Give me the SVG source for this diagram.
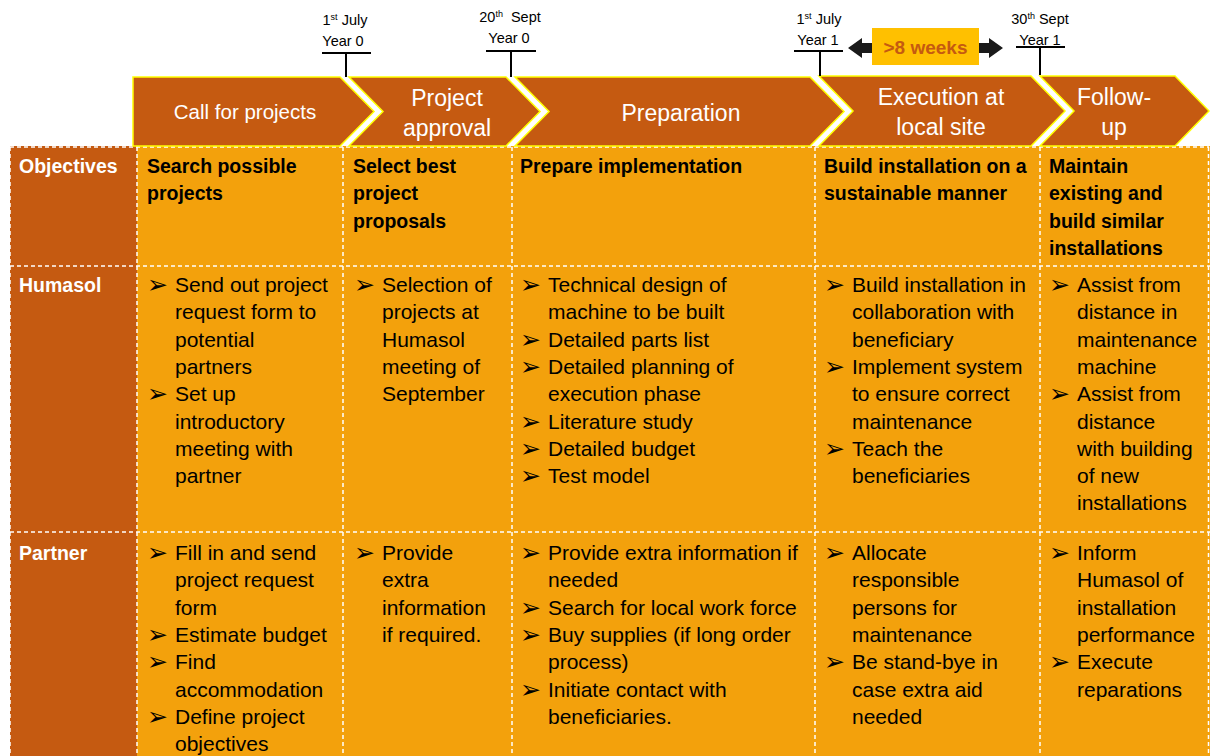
<svg xmlns="http://www.w3.org/2000/svg" width="1210" height="756" viewBox="0 0 1210 756">
<style>
.ch{fill:#C55A11;stroke:#FFFF00;stroke-width:1.5;stroke-linejoin:miter}
.cl{font-family:"Liberation Sans",Arial,sans-serif;fill:#FFFFFF;text-anchor:middle;font-size:23px}
.tl{font-family:"Liberation Sans",Arial,sans-serif;font-size:14.5px;fill:#000000;text-anchor:middle}
.sup{font-size:9px}
.hd{font-family:"Liberation Sans",Arial,sans-serif;font-weight:bold;font-size:19.5px;fill:#FFFFFF}
.ob{font-family:"Liberation Sans",Arial,sans-serif;font-weight:bold;font-size:19.5px;fill:#000000}
.tx{font-family:"Liberation Sans",Arial,sans-serif;font-size:21px;fill:#000000}
.bu{font-family:"DejaVu Sans",sans-serif;font-size:25px;fill:#000000}
.dash{stroke:#FFFFFF;stroke-width:1.5;stroke-dasharray:4 3;fill:none}
.tick{stroke:#000000;stroke-width:2;fill:none}
</style>
<rect x="0" y="0" width="1210" height="756" fill="#FFFFFF"/>

<!-- Table background -->
<g id="table">
<rect x="10" y="146" width="127" height="610" fill="#C55A11"/>
<rect x="137" y="146" width="1073" height="610" fill="#F3A10C"/>
<path class="dash" d="M10,147 H1209 M10,266 H1210 M10,532 H1210 M10,147 V756 M137,147 V756 M343,147 V756 M512,147 V756 M815,147 V756 M1040,147 V756 M1208.5,147 V756"/>
</g>

<!-- Chevrons -->
<g id="phase-call">
<polygon class="ch" points="133,77 340,77 374,111.5 340,146 133,146"/>
<text class="cl" x="245" y="119" style="font-size:20.5px">Call for projects</text>
</g>
<g id="phase-approval">
<polygon class="ch" points="349,77 506,77 540,111.5 506,146 349,146 383,111.5"/>
<text class="cl" x="447" y="106">Project</text>
<text class="cl" x="447" y="136">approval</text>
</g>
<g id="phase-preparation">
<polygon class="ch" points="515,77 810,77 844,111.5 810,146 515,146 549,111.5"/>
<text class="cl" x="681" y="121">Preparation</text>
</g>
<g id="phase-execution">
<polygon class="ch" points="819,76 1031,76 1065,111 1031,146 819,146 853,111"/>
<text class="cl" x="941" y="105">Execution at</text>
<text class="cl" x="941" y="135">local site</text>
</g>
<g id="phase-followup">
<polygon class="ch" points="1040,76 1175,76 1209,111 1175,146 1040,146 1074,111"/>
<text class="cl" x="1114" y="105">Follow-</text>
<text class="cl" x="1114" y="135">up</text>
</g>

<!-- Timeline markers -->
<g id="marker-1">
<text class="tl" x="345" y="25">1<tspan class="sup" dy="-5">st</tspan><tspan dy="5"> July</tspan></text>
<text class="tl" x="343" y="46">Year 0</text>
</g>
<g id="marker-2">
<text class="tl" x="510" y="22">20<tspan class="sup" dy="-5">th</tspan><tspan dy="5" dx="4"> Sept</tspan></text>
<text class="tl" x="509" y="43">Year 0</text>
</g>
<g id="marker-3">
<text class="tl" x="819" y="24">1<tspan class="sup" dy="-5">st</tspan><tspan dy="5"> July</tspan></text>
<text class="tl" x="818" y="45">Year 1</text>
</g>
<g id="marker-4">
<text class="tl" x="1040" y="24">30<tspan class="sup" dy="-5">th</tspan><tspan dy="5"> Sept</tspan></text>
<text class="tl" x="1040" y="45">Year 1</text>
</g>

<g id="connectors">
<path class="tick" d="M322,53 H371 M346,53 V77"/>
<path class="tick" d="M486,51 H536 M511,51 V77"/>
<path class="tick" d="M794,51 H843 M820,51 V76"/>
<path class="tick" d="M1016,47 H1065 M1040,47 V75"/>
<polygon fill="#1A1A1A" points="848,48 862,38 862,43 989,43 989,38 1003,48 989,58 989,53 862,53 862,58"/>
</g>

<g id="duration-label">
<rect x="872" y="28" width="107" height="37" fill="#FFC000"/>
<text x="925.5" y="54" text-anchor="middle" style="font-family:'Liberation Sans',Arial,sans-serif;font-weight:bold;font-size:19px;fill:#C55A11">&gt;8 weeks</text>
</g>

<!-- Row headers -->
<g id="row-objectives"><text class="hd" x="19" y="173">Objectives</text></g>
<g id="row-humasol"><text class="hd" x="19" y="292">Humasol</text></g>
<g id="row-partner"><text class="hd" x="19" y="560">Partner</text></g>

<!-- Objectives -->
<g id="obj-call">
<text class="ob" x="147" y="173">Search possible</text>
<text class="ob" x="147" y="200.3">projects</text>
</g>
<g id="obj-approval">
<text class="ob" x="353" y="173">Select best</text>
<text class="ob" x="353" y="200.3">project</text>
<text class="ob" x="353" y="227.6">proposals</text>
</g>
<g id="obj-preparation">
<text class="ob" x="520" y="173">Prepare implementation</text>
</g>
<g id="obj-execution">
<text class="ob" x="824" y="173">Build installation on a</text>
<text class="ob" x="824" y="200.3">sustainable manner</text>
</g>
<g id="obj-followup">
<text class="ob" x="1049" y="173">Maintain</text>
<text class="ob" x="1049" y="200.3">existing and</text>
<text class="ob" x="1049" y="227.6">build similar</text>
<text class="ob" x="1049" y="254.9">installations</text>
</g>

<!-- Humasol row -->
<g id="hum-call">
<text class="bu" x="147" y="293">➢</text>
<text class="tx" x="175" y="292">Send out project</text>
<text class="tx" x="175" y="319.3">request form to</text>
<text class="tx" x="175" y="346.6">potential</text>
<text class="tx" x="175" y="373.9">partners</text>
<text class="bu" x="147" y="402.2">➢</text>
<text class="tx" x="175" y="401.2">Set up</text>
<text class="tx" x="175" y="428.5">introductory</text>
<text class="tx" x="175" y="455.8">meeting with</text>
<text class="tx" x="175" y="483.1">partner</text>
</g>
<g id="hum-approval">
<text class="bu" x="354" y="293">➢</text>
<text class="tx" x="382" y="292">Selection of</text>
<text class="tx" x="382" y="319.3">projects at</text>
<text class="tx" x="382" y="346.6">Humasol</text>
<text class="tx" x="382" y="373.9">meeting of</text>
<text class="tx" x="382" y="401.2">September</text>
</g>
<g id="hum-preparation">
<text class="bu" x="520" y="293">➢</text>
<text class="tx" x="548" y="292">Technical design of</text>
<text class="tx" x="548" y="319.3">machine to be built</text>
<text class="bu" x="520" y="347.6">➢</text>
<text class="tx" x="548" y="346.6">Detailed parts list</text>
<text class="bu" x="520" y="374.9">➢</text>
<text class="tx" x="548" y="373.9">Detailed planning of</text>
<text class="tx" x="548" y="401.2">execution phase</text>
<text class="bu" x="520" y="429.5">➢</text>
<text class="tx" x="548" y="428.5">Literature study</text>
<text class="bu" x="520" y="456.8">➢</text>
<text class="tx" x="548" y="455.8">Detailed budget</text>
<text class="bu" x="520" y="484.1">➢</text>
<text class="tx" x="548" y="483.1">Test model</text>
</g>
<g id="hum-execution">
<text class="bu" x="824" y="293">➢</text>
<text class="tx" x="852" y="292">Build installation in</text>
<text class="tx" x="852" y="319.3">collaboration with</text>
<text class="tx" x="852" y="346.6">beneficiary</text>
<text class="bu" x="824" y="374.9">➢</text>
<text class="tx" x="852" y="373.9">Implement system</text>
<text class="tx" x="852" y="401.2">to ensure correct</text>
<text class="tx" x="852" y="428.5">maintenance</text>
<text class="bu" x="824" y="456.8">➢</text>
<text class="tx" x="852" y="455.8">Teach the</text>
<text class="tx" x="852" y="483.1">beneficiaries</text>
</g>
<g id="hum-followup">
<text class="bu" x="1049" y="293">➢</text>
<text class="tx" x="1077" y="292">Assist from</text>
<text class="tx" x="1077" y="319.3">distance in</text>
<text class="tx" x="1077" y="346.6">maintenance</text>
<text class="tx" x="1077" y="373.9">machine</text>
<text class="bu" x="1049" y="402.2">➢</text>
<text class="tx" x="1077" y="401.2">Assist from</text>
<text class="tx" x="1077" y="428.5">distance</text>
<text class="tx" x="1077" y="455.8">with building</text>
<text class="tx" x="1077" y="483.1">of new</text>
<text class="tx" x="1077" y="510.4">installations</text>
</g>

<!-- Partner row -->
<g id="par-call">
<text class="bu" x="147" y="561">➢</text>
<text class="tx" x="175" y="560">Fill in and send</text>
<text class="tx" x="175" y="587.3">project request</text>
<text class="tx" x="175" y="614.6">form</text>
<text class="bu" x="147" y="642.9">➢</text>
<text class="tx" x="175" y="641.9">Estimate budget</text>
<text class="bu" x="147" y="670.2">➢</text>
<text class="tx" x="175" y="669.2">Find</text>
<text class="tx" x="175" y="696.5">accommodation</text>
<text class="bu" x="147" y="724.8">➢</text>
<text class="tx" x="175" y="723.8">Define project</text>
<text class="tx" x="175" y="751.1">objectives</text>
</g>
<g id="par-approval">
<text class="bu" x="354" y="561">➢</text>
<text class="tx" x="382" y="560">Provide</text>
<text class="tx" x="382" y="587.3">extra</text>
<text class="tx" x="382" y="614.6">information</text>
<text class="tx" x="382" y="641.9">if required.</text>
</g>
<g id="par-preparation">
<text class="bu" x="520" y="561">➢</text>
<text class="tx" x="548" y="560">Provide extra information if</text>
<text class="tx" x="548" y="587.3">needed</text>
<text class="bu" x="520" y="615.6">➢</text>
<text class="tx" x="548" y="614.6">Search for local work force</text>
<text class="bu" x="520" y="642.9">➢</text>
<text class="tx" x="548" y="641.9">Buy supplies (if long order</text>
<text class="tx" x="548" y="669.2">process)</text>
<text class="bu" x="520" y="697.5">➢</text>
<text class="tx" x="548" y="696.5">Initiate contact with</text>
<text class="tx" x="548" y="723.8">beneficiaries.</text>
</g>
<g id="par-execution">
<text class="bu" x="824" y="561">➢</text>
<text class="tx" x="852" y="560">Allocate</text>
<text class="tx" x="852" y="587.3">responsible</text>
<text class="tx" x="852" y="614.6">persons for</text>
<text class="tx" x="852" y="641.9">maintenance</text>
<text class="bu" x="824" y="670.2">➢</text>
<text class="tx" x="852" y="669.2">Be stand-bye in</text>
<text class="tx" x="852" y="696.5">case extra aid</text>
<text class="tx" x="852" y="723.8">needed</text>
</g>
<g id="par-followup">
<text class="bu" x="1049" y="561">➢</text>
<text class="tx" x="1077" y="560">Inform</text>
<text class="tx" x="1077" y="587.3">Humasol of</text>
<text class="tx" x="1077" y="614.6">installation</text>
<text class="tx" x="1077" y="641.9">performance</text>
<text class="bu" x="1049" y="670.2">➢</text>
<text class="tx" x="1077" y="669.2">Execute</text>
<text class="tx" x="1077" y="696.5">reparations</text>
</g>
</svg>
